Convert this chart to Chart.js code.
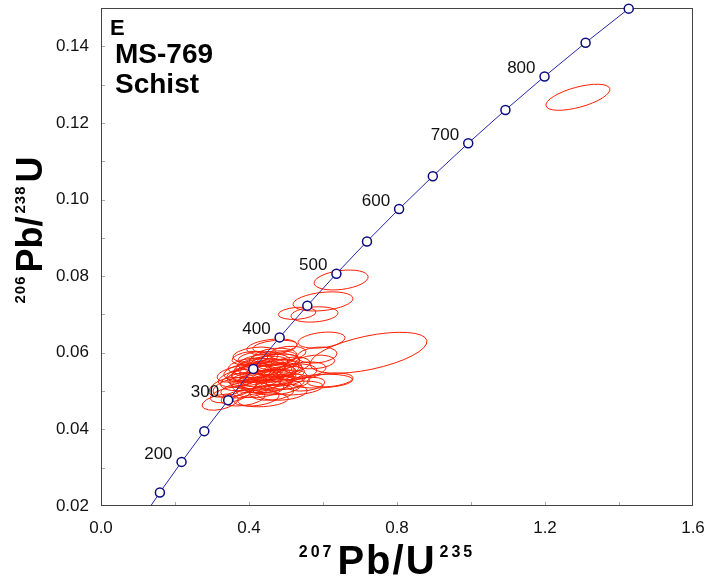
<!DOCTYPE html>
<html>
<head>
<meta charset="utf-8">
<script src="https://cdn.jsdelivr.net/npm/chart.js@4.4.0/dist/chart.umd.min.js"></script>
<style>
  html, body { margin: 0; padding: 0; background: #fff; }
</style>
</head>
<body>
<canvas id="concordiaChart" width="708" height="576"></canvas>
<script>
// Concordia curve: ages (Ma) and the matching ratios
const concAges = [100, 150, 200, 250, 300, 350, 400, 450, 500, 550, 600, 650, 700, 750, 800, 850, 900];
const concPb207U235 = [0.10350, 0.15920, 0.21771, 0.27917, 0.34374, 0.41156, 0.48281, 0.55766, 0.63628,
  0.71887, 0.80563, 0.89677, 0.99251, 1.09308, 1.19873, 1.30971, 1.42630];
const concPb206U238 = [0.015633, 0.023542, 0.031511, 0.039543, 0.047637, 0.055795, 0.064016, 0.072300, 0.080650,
  0.089064, 0.097544, 0.106089, 0.114702, 0.123382, 0.132129, 0.140944, 0.149829];
const labelAges = [200, 300, 400, 500, 600, 700, 800];

// Zircon spots: centre, error half widths, error correlation
const spotPb207U235 = [1.289, 0.723, 0.649, 0.600, 0.530, 0.577, 0.596, 0.470, 0.595,
  0.362, 0.419, 0.489, 0.619, 0.584, 0.462, 0.546, 0.341, 0.438, 0.554,
  0.578, 0.397, 0.435, 0.457, 0.478, 0.416, 0.497, 0.443, 0.376, 0.511,
  0.470, 0.424, 0.451, 0.492, 0.403, 0.524, 0.389, 0.349, 0.462, 0.532,
  0.435, 0.484, 0.403, 0.505, 0.384, 0.322,
  0.430, 0.455, 0.470, 0.410, 0.445, 0.480, 0.420, 0.400, 0.465, 0.440,
  0.490, 0.425, 0.455, 0.385, 0.505, 0.430, 0.370, 0.475, 0.415, 0.450];
const spotPb206U238 = [0.1267, 0.0600, 0.0790, 0.0734, 0.0703, 0.0700, 0.0633, 0.0616, 0.0526,
  0.0510, 0.0482, 0.0497, 0.0529, 0.0594, 0.0615, 0.0555, 0.0510, 0.0477, 0.0518,
  0.0576, 0.0550, 0.0568, 0.0550, 0.0576, 0.0529, 0.0534, 0.0516, 0.0534, 0.0568,
  0.0591, 0.0586, 0.0534, 0.0555, 0.0565, 0.0550, 0.0503, 0.0490, 0.0497, 0.0508,
  0.0550, 0.0521, 0.0586, 0.0599, 0.0482, 0.0471,
  0.0560, 0.0545, 0.0575, 0.0540, 0.0530, 0.0560, 0.0520, 0.0545, 0.0585, 0.0575,
  0.0545, 0.0550, 0.0555, 0.0525, 0.0525, 0.0505, 0.0545, 0.0510, 0.0595, 0.0520];
const spotErr207 = [0.0865, 0.158, 0.073, 0.081, 0.051, 0.0635, 0.0635, 0.0595, 0.085,
  0.059, 0.062, 0.068, 0.062, 0.054, 0.068, 0.062, 0.049, 0.068, 0.051,
  0.054, 0.065, 0.070, 0.065, 0.059, 0.068, 0.059, 0.065, 0.059, 0.054,
  0.059, 0.054, 0.076, 0.054, 0.059, 0.059, 0.065, 0.054, 0.059, 0.068,
  0.081, 0.065, 0.049, 0.049, 0.059, 0.049,
  0.070, 0.072, 0.066, 0.068, 0.075, 0.062, 0.066, 0.060, 0.064, 0.070,
  0.060, 0.072, 0.080, 0.062, 0.058, 0.064, 0.056, 0.066, 0.058, 0.068];
const spotErr206 = [0.0034, 0.00535, 0.0026, 0.0025, 0.0016, 0.0020, 0.0021, 0.0017, 0.0018,
  0.0026, 0.0021, 0.0021, 0.0018, 0.0021, 0.0021, 0.0021, 0.0026, 0.0018, 0.0018,
  0.0018, 0.0023, 0.0023, 0.0021, 0.0021, 0.0023, 0.0021, 0.0021, 0.0023, 0.0021,
  0.0021, 0.0018, 0.0023, 0.0018, 0.0021, 0.0021, 0.0021, 0.0021, 0.0021, 0.0018,
  0.0026, 0.0018, 0.0018, 0.0018, 0.0021, 0.0021,
  0.0025, 0.0024, 0.0022, 0.0026, 0.0025, 0.0022, 0.0024, 0.0022, 0.0020, 0.0022,
  0.0020, 0.0027, 0.0028, 0.0024, 0.0020, 0.0022, 0.0022, 0.0020, 0.0020, 0.0024];
const spotRho = [0.6, 0.55, 0.3, 0.3, 0.2, 0.2, 0.3, 0.3, 0.2,
  0.4, 0.3, 0.2, 0.3, 0.2, 0.3, 0.3, 0.4, 0.2, 0.3,
  0.2, 0.3, 0.4, 0.3, 0.2, 0.3, 0.3, 0.2, 0.4, 0.3,
  0.2, 0.3, 0.4, 0.2, 0.3, 0.2, 0.3, 0.4, 0.2, 0.3,
  0.4, 0.2, 0.3, 0.2, 0.3, 0.4,
  0.3, 0.3, 0.3, 0.4, 0.3, 0.2, 0.3, 0.4, 0.3, 0.3,
  0.3, 0.4, 0.3, 0.3, 0.2, 0.3, 0.4, 0.3, 0.3, 0.3];

const FONT = "'Liberation Sans', Arial, sans-serif";

function isLabelTick(v, step) {
  const r = v / step;
  return Math.abs(r - Math.round(r)) < 1e-6;
}

// red error ellipses, drawn under the concordia
const errorEllipsePlugin = {
  id: "errorEllipses",
  beforeDatasetsDraw(chart) {
    const { ctx, chartArea: a, scales: { x, y } } = chart;
    ctx.save();
    ctx.beginPath();
    ctx.rect(a.left, a.top, a.right - a.left, a.bottom - a.top);
    ctx.clip();
    ctx.strokeStyle = "#ff1e00";
    ctx.lineWidth = 1;
    spotPb207U235.forEach((cx, i) => {
      const cy = spotPb206U238[i];
      const px = x.getPixelForValue(cx);
      const py = y.getPixelForValue(cy);
      const sa = Math.abs(x.getPixelForValue(cx + spotErr207[i]) - px);
      const sb = Math.abs(y.getPixelForValue(cy + spotErr206[i]) - py);
      const c = -spotRho[i] * sa * sb; // pixel y runs downwards
      const m = (sa * sa + sb * sb) / 2;
      const d = Math.sqrt(((sa * sa - sb * sb) / 2) ** 2 + c * c);
      const theta = 0.5 * Math.atan2(2 * c, sa * sa - sb * sb);
      ctx.beginPath();
      ctx.ellipse(px, py, Math.sqrt(m + d), Math.sqrt(Math.max(m - d, 0.25)), theta, 0, 2 * Math.PI);
      ctx.stroke();
    });
    ctx.restore();
  }
};

// plot box and inward tick marks
const framePlugin = {
  id: "frameTicks",
  beforeDatasetsDraw(chart) {
    const { ctx, chartArea: a, scales: { x, y } } = chart;
    ctx.save();
    ctx.strokeStyle = "#a8a8a8";
    ctx.lineWidth = 1;
    ctx.beginPath();
    x.ticks.forEach(t => {
      if (t.value <= x.min || t.value >= x.max) return;
      const px = Math.round(x.getPixelForValue(t.value)) + 0.5;
      ctx.moveTo(px, a.bottom);
      ctx.lineTo(px, a.bottom - 4);
    });
    y.ticks.forEach(t => {
      if (t.value <= y.min || t.value >= y.max) return;
      const py = Math.round(y.getPixelForValue(t.value)) + 0.5;
      ctx.moveTo(a.left, py);
      ctx.lineTo(a.left + 4, py);
    });
    ctx.stroke();
    ctx.strokeStyle = "#444";
    ctx.strokeRect(a.left + 0.5, a.top + 0.5, a.right - a.left - 1, a.bottom - a.top - 1);
    ctx.restore();
  }
};

function drawRatio(ctx, parts, big, sup, bigSpacing, supSpacing) {
  // parts: [text, isSuperscript]; draws centred at the origin on the baseline
  const widths = parts.map(([t, s]) => {
    ctx.font = s ? sup : big;
    ctx.letterSpacing = s ? supSpacing : bigSpacing;
    return ctx.measureText(t).width;
  });
  const gap = 3;
  let xPos = -(widths.reduce((p, w) => p + w, 0) + gap * (parts.length - 1)) / 2;
  parts.forEach(([t, s], i) => {
    ctx.font = s ? sup : big;
    ctx.letterSpacing = s ? supSpacing : bigSpacing;
    ctx.fillText(t, xPos, s ? -17 : 0);
    xPos += widths[i] + gap;
  });
  ctx.letterSpacing = "0px";
}

// age labels, sample name and axis titles
const textPlugin = {
  id: "texts",
  afterDraw(chart) {
    const { ctx } = chart;
    const pts = chart.getDatasetMeta(0).data;
    ctx.save();
    ctx.fillStyle = "#111";
    ctx.font = "17px " + FONT;
    ctx.textAlign = "right";
    ctx.textBaseline = "middle";
    labelAges.forEach(age => {
      const p = pts[concAges.indexOf(age)];
      ctx.fillText(String(age), p.x - 9, p.y - 8);
    });

    ctx.fillStyle = "#000";
    ctx.textAlign = "left";
    ctx.textBaseline = "alphabetic";
    ctx.font = "bold 22px " + FONT;
    ctx.fillText("E", 110, 35);
    ctx.font = "bold 28px " + FONT;
    ctx.fillText("MS-769", 115, 63);
    ctx.fillText("Schist", 115, 93);

    ctx.save();
    ctx.translate(387, 574);
    drawRatio(ctx, [["207", true], ["Pb/U", false], ["235", true]],
      "bold 40px " + FONT, "bold 16px " + FONT, "2px", "3px");
    ctx.restore();

    ctx.save();
    ctx.translate(42, 230);
    ctx.rotate(-Math.PI / 2);
    drawRatio(ctx, [["206", true], ["Pb/", false], ["238", true], ["U", false]],
      "bold 36px " + FONT, "bold 15px " + FONT, "0px", "1px");
    ctx.restore();
    ctx.restore();
  }
};

const ctx = document.getElementById("concordiaChart").getContext("2d");
new Chart(ctx, {
  type: "scatter",
  data: {
    datasets: [
      {
        data: concAges.map((t, i) => ({ x: concPb207U235[i], y: concPb206U238[i] })),
        showLine: true,
        borderColor: "#2626a8",
        borderWidth: 1,
        pointRadius: concAges.map(t => (t < 150 ? 0 : 4.5)),
        pointBorderColor: "#0a0a80",
        pointBackgroundColor: "#ffffff",
        pointBorderWidth: 1.5,
        clip: { left: 0, top: 8, right: 0, bottom: 0 },
      },
    ],
  },
  options: {
    responsive: false,
    animation: false,
    layout: { padding: { top: 8, right: 15, left: 0, bottom: 0 } },
    plugins: {
      legend: { display: false },
      tooltip: { enabled: false },
    },
    scales: {
      x: {
        type: "linear",
        min: 0,
        max: 1.6,
        grid: { display: false, drawTicks: false },
        border: { display: false },
        ticks: {
          stepSize: 0.2,
          padding: 12,
          autoSkip: false,
          maxRotation: 0,
          color: "#111",
          font: { family: FONT, size: 17 },
          callback: v => (isLabelTick(v, 0.4) ? v.toFixed(1) : ""),
        },
        afterFit: s => {
          s.height = 70;
          s.paddingLeft = 0;
          s.paddingRight = 0;
        },
      },
      y: {
        min: 0.02,
        max: 0.15,
        grid: { display: false, drawTicks: false },
        border: { display: false },
        ticks: {
          stepSize: 0.01,
          padding: 12,
          autoSkip: false,
          color: "#111",
          font: { family: FONT, size: 17 },
          callback: v => (isLabelTick(v, 0.02) ? v.toFixed(2) : ""),
        },
        afterFit: s => {
          s.width = 101;
          s.paddingTop = 0;
          s.paddingBottom = 0;
        },
      },
    },
  },
  plugins: [errorEllipsePlugin, framePlugin, textPlugin],
});
</script>
</body>
</html>
